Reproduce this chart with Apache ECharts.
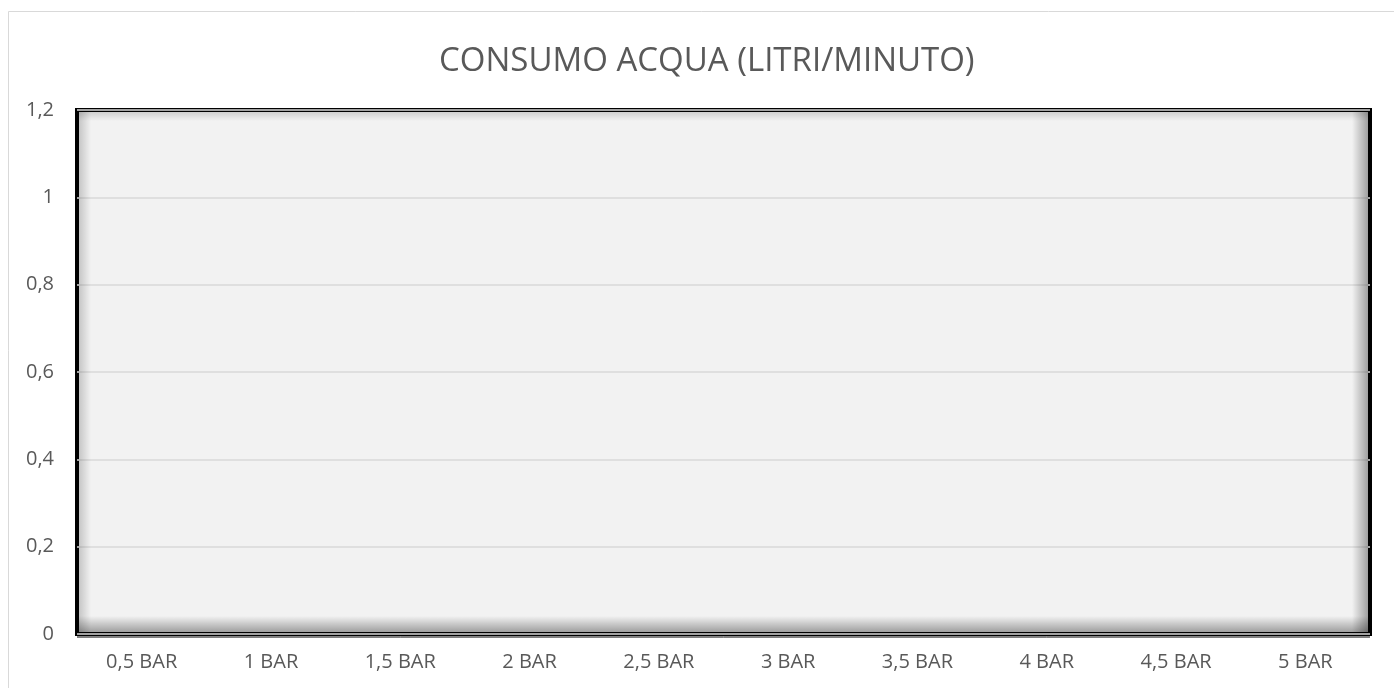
<!DOCTYPE html>
<html>
<head>
<meta charset="utf-8">
<script src="https://cdn.jsdelivr.net/npm/echarts@6/dist/echarts.min.js"></script>
<style>
html,body{margin:0;padding:0;background:#fff;}
#chart{width:1394px;height:688px;}
</style>
</head>
<body>
<div id="chart"></div>
<script>
const chartTitle = 'CONSUMO ACQUA (LITRI/MINUTO)';
const categories = ['0,5 BAR','1 BAR','1,5 BAR','2 BAR','2,5 BAR','3 BAR','3,5 BAR','4 BAR','4,5 BAR','5 BAR'];
const values = [];
const yMin = 0, yMax = 1.2, yStep = 0.2;

const FONT = 'Open Sans';
const TXT = '#595959';
const chart = echarts.init(document.getElementById('chart'));
chart.setOption({
  animation: false,
  backgroundColor: '#ffffff',
  title: {
    text: chartTitle, left: 434, top: 40,
    textStyle: {fontFamily: FONT, fontSize: 33, fontWeight: 'normal', color: TXT}
  },
  grid: {
    left: 77, right: 24, top: 110, bottom: 54,
    show: true, backgroundColor: '#f2f2f2', borderColor: '#000000', borderWidth: 4
  },
  xAxis: {
    type: 'category', data: categories,
    axisTick: {show: false},
    axisLine: {show: false},
    axisLabel: {fontFamily: FONT, fontSize: 20, color: TXT, margin: 18}
  },
  yAxis: {
    type: 'value', min: yMin, max: yMax, interval: yStep,
    axisLine: {show: false}, axisTick: {show: false},
    splitLine: {lineStyle: {color: '#d9d9d9', width: 1.5}},
    axisLabel: {
      fontFamily: FONT, fontSize: 20, color: TXT, margin: 23,
      formatter: v => String(+v.toFixed(1)).replace('.', ',')
    }
  },
  series: [{type: 'bar', data: values, itemStyle: {color: '#4472c4'}}]
});

// inner shadow of the plot frame, placed from the grid's own rect
const rect = chart.getModel().getComponent('grid', 0).coordinateSystem.getRect();
const g = (x0,y0,x1,y1,a) => new echarts.graphic.LinearGradient(x0,y0,x1,y1,[
  {offset:0,color:'rgba(0,0,0,'+a+')'},{offset:1,color:'rgba(0,0,0,0)'}]);
const ins = 2;
chart.setOption({graphic: [
  {type:'rect', silent:true, z:-10, shape:{x:8.5,y:11.5,width:1500,height:800}, style:{fill:'none',stroke:'#d9d9d9',lineWidth:1}},
  {type:'rect', silent:true, z:1, shape:{x:rect.x+ins, y:rect.y+ins, width:rect.width-2*ins, height:9}, style:{fill:g(0,0,0,1,0.14)}},
  {type:'rect', silent:true, z:1, shape:{x:rect.x+ins, y:rect.y+rect.height-ins-16, width:rect.width-2*ins, height:16}, style:{fill:g(0,1,0,0,0.34)}},
  {type:'rect', silent:true, z:1, shape:{x:rect.x+ins, y:rect.y+ins, width:12, height:rect.height-2*ins}, style:{fill:g(0,0,1,0,0.18)}},
  {type:'rect', silent:true, z:1, shape:{x:rect.x+rect.width-ins-16, y:rect.y+ins, width:16, height:rect.height-2*ins}, style:{fill:g(1,0,0,0,0.34)}},
  {type:'line', silent:true, z:2, shape:{x1:rect.x, y1:rect.y+rect.height+3, x2:rect.x+rect.width, y2:rect.y+rect.height+3}, style:{stroke:'#000', lineWidth:1}}
]});
</script>
</body>
</html>
